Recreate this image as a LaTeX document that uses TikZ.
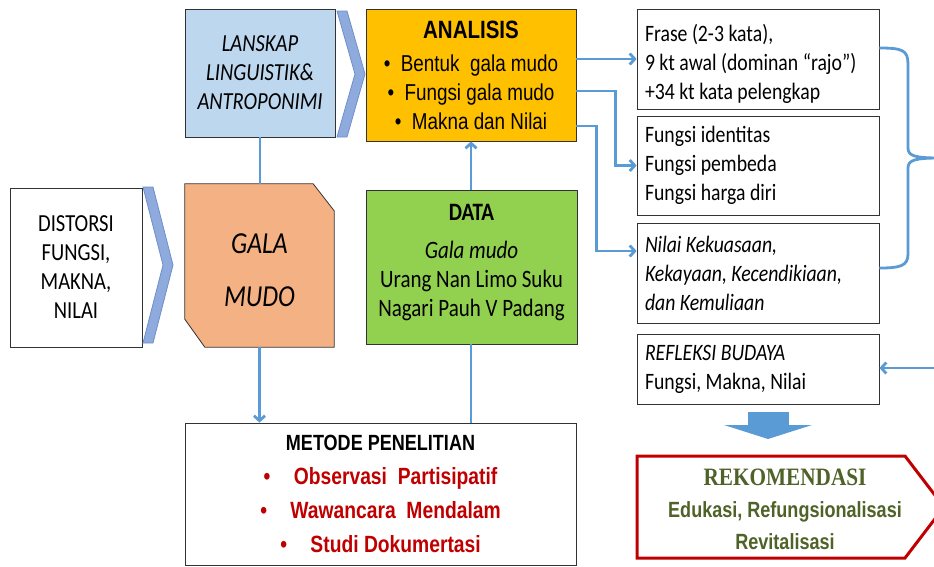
\documentclass[tikz,border=0pt]{standalone}
\usepackage{fontspec}
\setmainfont[FakeStretch=0.84]{Carlito}
\newfontfamily\narrowfont[FakeStretch=0.82]{Liberation Sans}
\newfontfamily\capsfont[FakeStretch=0.85]{Liberation Serif}
\usetikzlibrary{arrows.meta}
\begin{document}
\begin{tikzpicture}[x=1pt,y=-1pt,>={Straight Barb[length=5pt,width=11pt]}]
	\useasboundingbox (0,0) rectangle (934,566);
	\definecolor{linkblue}{HTML}{5B9BD5}
	\definecolor{chev}{HTML}{8FAADC}
	\definecolor{chevedge}{HTML}{6E8FCB}
	\definecolor{skyfill}{HTML}{BDD7EE}
	\definecolor{peach}{HTML}{F4B183}
	\definecolor{amber}{HTML}{FFC000}
	\definecolor{leaf}{HTML}{92D050}
	\definecolor{darkred}{HTML}{C00000}
	\definecolor{olive}{HTML}{4F6228}
	\tikzset{box/.style={draw=black!80, line width=0.8pt, align=center, inner sep=0pt},
		txt/.style={font=\fontsize{24.5}{29}\selectfont},
		listbox/.style={box, font=\fontsize{23.5}{29}\selectfont, align=flush left, text width=226pt, inner xsep=8pt, minimum height=#1},
		link/.style={draw=linkblue, line width=2.8pt},
		chevron/.style={fill=chev, draw=chevedge, line width=0.8pt}}
	\node[box, fill=white, minimum width=132, minimum height=159, txt] (distorsi) at (76,267.5) {DISTORSI\\FUNGSI,\\MAKNA,\\NILAI};
	\node[box, fill=skyfill, minimum width=150, minimum height=128, font=\fontsize{24.5}{29}\selectfont\itshape] (lanskap) at (260,73) {LANSKAP\\LINGUISTIK\&\\ANTROPONIMI};
	\node[minimum width=149, minimum height=163, inner sep=0pt] (gala) at (259.5,265.5) {};
	\fill[peach, draw=black!80, line width=0.8pt] (gala.north west) -- ([xshift=-21pt]gala.north east) -- ([yshift=-27pt]gala.north east) -- (gala.south east) -- ([xshift=20pt]gala.south west) -- ([yshift=28pt]gala.south west) -- cycle;
	\node[align=center, font=\fontsize{30.5}{53}\selectfont\itshape] at ([yshift=-5pt]gala) {GALA\\MUDO};
	\node[box, fill=amber, minimum width=210, minimum height=132, font=\narrowfont\fontsize{23}{29}\selectfont] (analisis) at (471,75) {{\fontsize{25}{29}\selectfont\bfseries ANALISIS}\\[4pt]\textbullet\ \ Bentuk \ gala mudo\\\textbullet\ \ Fungsi gala mudo\\\textbullet\ \ Makna dan Nilai};
	\node[box, fill=leaf, minimum width=211, minimum height=154, font=\fontsize{25}{29}\selectfont] (data) at (471.5,267) {\textbf{DATA}\\[9pt]\textit{Gala mudo}\\Urang Nan Limo Suku\\Nagari Pauh V Padang\rule[-13pt]{0pt}{0pt}};
	\node[box, fill=white, minimum width=391, minimum height=142, font=\narrowfont\bfseries\fontsize{23.5}{34}\selectfont] (metode) at (380.5,494) {{\fontsize{22}{34}\selectfont METODE PENELITIAN}\\\textcolor{darkred}{\textbullet\quad Observasi \ Partisipatif}\\\textcolor{darkred}{\textbullet\quad Wawancara \ Mendalam}\\\textcolor{darkred}{\textbullet\quad Studi Dokumertasi}};
	\node[listbox=100pt] (frase) at (758,59) {\rule{0pt}{27pt}Frase (2-3 kata),\\9 kt awal (dominan ``rajo'')\\+34 kt kata pelengkap};
	\node[listbox=99pt] (fungsi) at (758,165.5) {Fungsi identitas\\Fungsi pembeda\\Fungsi harga diri};
	\node[listbox=100pt, font=\fontsize{23.5}{29}\selectfont\itshape] (nilai) at (758,273) {Nilai Kekuasaan,\\Kekayaan, Kecendikiaan,\\dan Kemuliaan};
	\node[listbox=70pt] (refleksi) at (758,369) {\textit{REFLEKSI BUDAYA}\\Fungsi, Makna, Nilai};
	\draw[darkred, line width=3pt, fill=white] (637,456) -- (905,456) -- (944,507) -- (905,558) -- (637,558) -- cycle;
	\node[align=center, text=olive, font=\narrowfont\bfseries\fontsize{22}{32}\selectfont] (rekom) at (785,509) {{\capsfont\bfseries\fontsize{25}{32}\selectfont REKOMENDASI}\\Edukasi, Refungsionalisasi\\Revitalisasi};
	\fill[chevron] (143,187) -- (153,187) -- (173,265) -- (153,343) -- (143,343) -- (163,265) -- cycle;
	\fill[chevron] (337,11) -- (347,11) -- (365,74) -- (347,137) -- (337,137) -- (355,74) -- cycle;
	\fill[linkblue] (748,412) rectangle (789,425);
	\fill[linkblue] (724,425) -- (812,425) -- (768,439) -- cycle;
	\draw[link] (lanskap.south) -- (lanskap.south |- gala.north);
	\draw[link,->] (gala.south) -- (gala.south |- metode.north);
	\draw[link] (analisis.south |- metode.north) -- (analisis.south |- data.south);
	\draw[link,->] (analisis.south |- data.north) -- (analisis.south);
	\draw[link,->] (analisis.east |- frase.west) -- (frase.west);
	\draw[link,->] ([yshift=-16pt]analisis.east) -- ++(39,0) |- (fungsi.west);
	\draw[link,->] ([yshift=-51pt]analisis.east) -- ++(20,0) |- ([yshift=22pt]nilai.west);
	\draw[link] ([yshift=11pt]frase.east) .. controls (902,48) and (908,50) .. (908,64) -- (908,148) .. controls (908,156) and (915,158) .. (940,158)
		(940,158) .. controls (915,158) and (908,160) .. (908,168) -- (908,254) .. controls (908,266) and (900,268) .. ([yshift=5pt]nilai.east);
	\coordinate (feedback) at (940,368);
	\draw[link,->] (feedback) -- (feedback -| refleksi.east);
\end{tikzpicture}
\end{document}
